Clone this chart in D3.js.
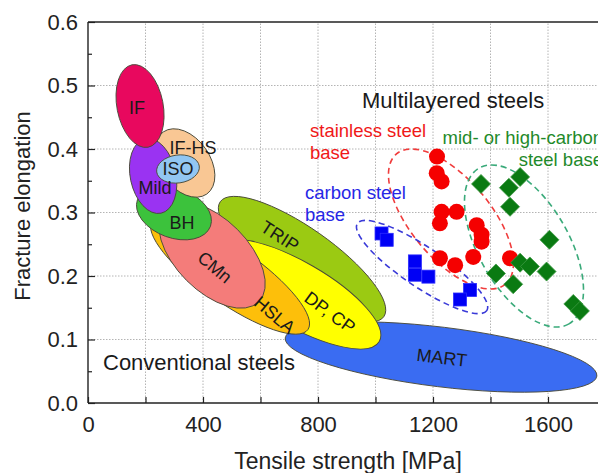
<!DOCTYPE html>
<html>
<head>
<meta charset="utf-8">
<script src="https://cdn.jsdelivr.net/npm/d3@7"></script>
<style>
  html, body { margin: 0; padding: 0; background: #fff; }
  svg { display: block; font-family: "Liberation Sans", Arial, Helvetica, sans-serif; }
</style>
</head>
<body>
<svg id="chart" width="598" height="473"></svg>
<script>
// ---- Conventional steel grades: property windows drawn as ellipses ----
// Each window is given by the two ends of its long axis
// (tensile strength in MPa, fracture elongation) and its width/length ratio.
const gradeNames   = ["MART", "TRIP", "DP, CP", "HSLA", "CMn", "BH", "IF-HS", "Mild", "ISO", "IF"];
const gradeUtsEnds = [[686, 1770], [460, 1029], [441, 1013], [223, 765], [269, 594], [172, 426], [262, 413], [199, 254], [239, 387], [153, 209]];
const gradeElEnds  = [[0.1025, 0.0424], [0.3170, 0.1360], [0.2465, 0.0969], [0.2874, 0.1157], [0.3066, 0.1595], [0.3202, 0.2783], [0.4269, 0.329], [0.4161, 0.2989], [0.3638, 0.3732], [0.5326, 0.4028]];
const gradeWidth   = [0.19, 0.31, 0.337, 0.295, 0.545, 0.64, 0.66, 0.6, 0.65, 0.55];
const gradeColors  = ["#3a6cf2", "#9bca12", "#ffff00", "#fdbf0a", "#f47c7a", "#3cc23c", "#f9c794", "#9a33f2", "#92c6f2", "#e8085e"];
// label anchor (MPa, elongation) and text angle
const gradeLabelUts = [1231, 668, 842, 650, 442, 327, 365, 233, 313, 170];
const gradeLabelEl  = [0.072, 0.263, 0.143, 0.139, 0.214, 0.285, 0.403, 0.340, 0.3685, 0.465];
const gradeLabelRot = [7, 33, 36, 40, 40, 0, 0, 0, 0, 0];

// ---- Multilayered steels ----
const stainlessUts = [1214, 1213, 1230, 1230, 1282, 1224, 1352, 1369, 1369, 1224, 1277, 1340, 1468];
const stainlessEl  = [0.388, 0.362, 0.349, 0.301, 0.301, 0.283, 0.280, 0.265, 0.254, 0.228, 0.217, 0.230, 0.228];

const carbonUts = [1021, 1039, 1137, 1137, 1184, 1329, 1294];
const carbonEl  = [0.267, 0.257, 0.223, 0.202, 0.199, 0.178, 0.163];

const highCarbonUts = [1367, 1503, 1464, 1468, 1605, 1503, 1537, 1595, 1419, 1479, 1688, 1711];
const highCarbonEl  = [0.345, 0.356, 0.339, 0.309, 0.257, 0.221, 0.215, 0.207, 0.204, 0.187, 0.156, 0.145];

// dashed envelopes around each multilayer family
const groupNames   = ["stainless", "carbon", "highCarbon"];
const groupUtsEnds = [[1073, 1452], [937, 1387], [1360, 1673]];
const groupElEnds  = [[0.3923, 0.1872], [0.2828, 0.1455], [0.3699, 0.1246]];
const groupWidth   = [0.47, 0.256, 0.5];
const groupColors  = ["#f03c3c", "#3a3ad8", "#3aaa7a"];

// axes
const xTickValues = [0, 200, 400, 600, 800, 1000, 1200, 1400, 1600, 1800];
const xTickLabels = [0, 400, 800, 1200, 1600];
const yTickValues = [0, 0.1, 0.2, 0.3, 0.4, 0.5, 0.6];
const yMinorTicks = [0.05, 0.15, 0.25, 0.35, 0.45, 0.55];

// ---- layout ----
const svg = d3.select("#chart");
const x = d3.scaleLinear().domain([0, 2000]).range([88, 663]);
const y = d3.scaleLinear().domain([0, 0.6]).range([403, 22]);

// grid
const grid = svg.append("g").attr("stroke", "#b4b4b4").attr("stroke-width", 1).attr("stroke-dasharray", "1.5,1.5");
xTickValues.filter(v => v > 0).forEach(v => {
  grid.append("line").attr("x1", x(v)).attr("x2", x(v)).attr("y1", y(0)).attr("y2", y(0.6));
});
yTickValues.filter(v => v > 0 && v < 0.6).forEach(v => {
  grid.append("line").attr("x1", x(0)).attr("x2", x(2000)).attr("y1", y(v)).attr("y2", y(v));
});

function ellipseGeom(utsEnds, elEnds, ratio) {
  const x1 = x(utsEnds[0]), y1 = y(elEnds[0]);
  const x2 = x(utsEnds[1]), y2 = y(elEnds[1]);
  const a = Math.hypot(x2 - x1, y2 - y1) / 2;
  return {
    cx: (x1 + x2) / 2, cy: (y1 + y2) / 2,
    rx: a, ry: a * ratio,
    angle: Math.atan2(y2 - y1, x2 - x1) * 180 / Math.PI
  };
}

// conventional steel windows
const grades = gradeNames.map((name, i) => ({
  name, color: gradeColors[i],
  geom: ellipseGeom(gradeUtsEnds[i], gradeElEnds[i], gradeWidth[i]),
  lx: x(gradeLabelUts[i]), ly: y(gradeLabelEl[i]), rot: gradeLabelRot[i]
}));

svg.append("g").selectAll("ellipse").data(grades).join("ellipse")
  .attr("transform", d => `translate(${d.geom.cx},${d.geom.cy}) rotate(${d.geom.angle})`)
  .attr("rx", d => d.geom.rx).attr("ry", d => d.geom.ry)
  .attr("fill", d => d.color)
  .attr("stroke", "#4a4a3a").attr("stroke-width", 0.9);

svg.append("g").selectAll("text").data(grades).join("text")
  .attr("transform", d => `translate(${d.lx},${d.ly}) rotate(${d.rot})`)
  .attr("text-anchor", "middle").attr("dy", "0.36em")
  .attr("font-size", 18).attr("fill", "#1a1a1a")
  .text(d => d.name);

// dashed envelopes
const groups = groupNames.map((name, i) => ({
  name, color: groupColors[i],
  geom: ellipseGeom(groupUtsEnds[i], groupElEnds[i], groupWidth[i])
}));
svg.append("g").selectAll("ellipse").data(groups).join("ellipse")
  .attr("transform", d => `translate(${d.geom.cx},${d.geom.cy}) rotate(${d.geom.angle})`)
  .attr("rx", d => d.geom.rx).attr("ry", d => d.geom.ry)
  .attr("fill", "none").attr("stroke", d => d.color)
  .attr("stroke-width", 1.6).attr("stroke-dasharray", "6,4");

// carbon steel base: squares
const sq = 13;
svg.append("g").selectAll("rect").data(d3.zip(carbonUts, carbonEl)).join("rect")
  .attr("x", d => x(d[0]) - sq / 2).attr("y", d => y(d[1]) - sq / 2)
  .attr("width", sq).attr("height", sq)
  .attr("fill", "#0000f5").attr("stroke", "#2a2aff").attr("stroke-width", 0.8);

// stainless steel base: circles
svg.append("g").selectAll("circle").data(d3.zip(stainlessUts, stainlessEl)).join("circle")
  .attr("cx", d => x(d[0])).attr("cy", d => y(d[1])).attr("r", 8)
  .attr("fill", "#f50000");

// mid- or high-carbon steel base: diamonds
const dh = 9.5;
svg.append("g").selectAll("path").data(d3.zip(highCarbonUts, highCarbonEl)).join("path")
  .attr("transform", d => `translate(${x(d[0])},${y(d[1])})`)
  .attr("d", `M0,${-dh}L${dh},0L0,${dh}L${-dh},0Z`)
  .attr("fill", "#0a7a12").attr("stroke", "#3f9a45").attr("stroke-width", 0.8);

// axes
const xAxis = d3.axisBottom(x).tickValues(xTickValues).tickSize(-6).tickPadding(13)
  .tickFormat(v => xTickLabels.includes(v) ? String(v) : "");
const yAxis = d3.axisLeft(y).tickValues(yTickValues).tickSize(-7).tickPadding(10)
  .tickFormat(d3.format(".1f"));
const yMinor = d3.axisLeft(y).tickValues(yMinorTicks).tickSize(-4).tickFormat("");

function styleAxis(g) {
  g.select(".domain").remove();
  g.selectAll("line").attr("stroke", "#222").attr("stroke-width", 1.2);
  g.selectAll("text").attr("font-size", 22).attr("fill", "#222")
    .style("font-family", "'Liberation Sans', Arial, sans-serif");
}
svg.append("g").attr("transform", `translate(0,${y(0)})`).call(xAxis).call(styleAxis);
svg.append("g").attr("transform", `translate(${x(0)},0)`).call(yAxis).call(styleAxis);
svg.append("g").attr("transform", `translate(${x(0)},0)`).call(yMinor).call(styleAxis);

// frame
const frame = svg.append("g").attr("stroke", "#222").attr("stroke-width", 1.4).attr("fill", "none");
frame.append("line").attr("x1", x(0)).attr("x2", x(2000)).attr("y1", y(0)).attr("y2", y(0));
frame.append("line").attr("x1", x(0)).attr("x2", x(2000)).attr("y1", y(0.6)).attr("y2", y(0.6));
frame.append("line").attr("x1", x(0)).attr("x2", x(0)).attr("y1", y(0)).attr("y2", y(0.6));

// axis titles
svg.append("text").attr("x", 348).attr("y", 469).attr("text-anchor", "middle")
  .attr("font-size", 23).attr("fill", "#222").text("Tensile strength [MPa]");
svg.append("text").attr("transform", "translate(30,206) rotate(-90)").attr("text-anchor", "middle")
  .attr("font-size", 22).attr("fill", "#222").text("Fracture elongation");

// annotations
svg.append("text").attr("x", 362).attr("y", 108).attr("font-size", 22).attr("fill", "#1a1a1a").text("Multilayered steels");
svg.append("text").attr("x", 103).attr("y", 370).attr("font-size", 22).attr("fill", "#1a1a1a").text("Conventional steels");

const note = svg.append("g").attr("font-size", 18.5);
note.append("text").attr("x", 310).attr("y", 137).attr("fill", "#f01818").text("stainless steel");
note.append("text").attr("x", 310).attr("y", 159).attr("fill", "#f01818").text("base");
note.append("text").attr("x", 305).attr("y", 199).attr("fill", "#2626e6").text("carbon steel");
note.append("text").attr("x", 305).attr("y", 221).attr("fill", "#2626e6").text("base");
note.append("text").attr("x", 603).attr("y", 144).attr("text-anchor", "end").attr("fill", "#1f8a2a").text("mid- or high-carbon");
note.append("text").attr("x", 603).attr("y", 166).attr("text-anchor", "end").attr("fill", "#1f8a2a").text("steel base");
</script>
</body>
</html>
